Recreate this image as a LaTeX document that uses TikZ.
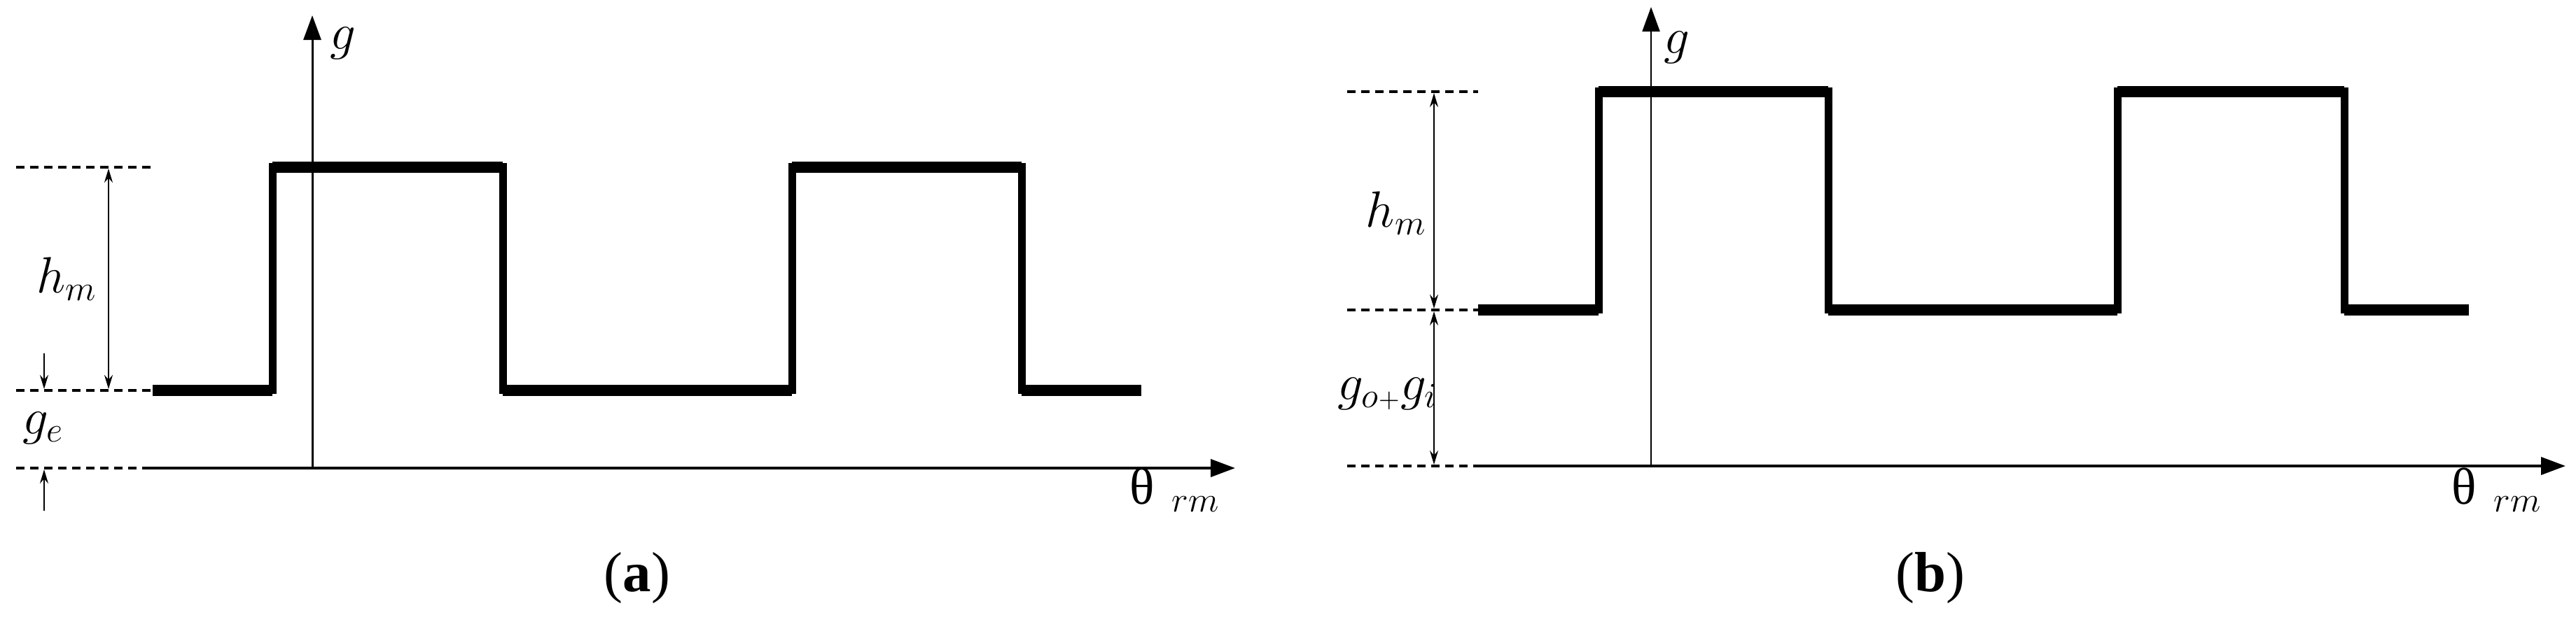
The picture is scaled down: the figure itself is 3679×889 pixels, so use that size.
\documentclass[tikz,border=0pt]{standalone}
\usepackage{fontspec}
\setmainfont{Liberation Serif}
\usetikzlibrary{arrows.meta}
\begin{document}
\begin{tikzpicture}[x=0.01cm,y=-0.01cm,
  wave/.style={line width=0.11cm,line join=miter},
  flat/.style={line width=0.16cm},
  axis/.style={line width=0.04cm,-{Triangle[length=0.35cm,width=0.25cm]}},
  guide/.style={line width=0.04cm,dashed,dash pattern=on 0.12cm off 0.08cm},
  dim/.style={line width=0.02cm,{Stealth[length=0.2cm,width=0.12cm]}-{Stealth[length=0.2cm,width=0.12cm]}},
  lbl/.style={font=\fontsize{21}{24}\selectfont,inner sep=0pt},
  captxt/.style={font=\fontsize{23}{27}\selectfont,inner sep=0pt}]
\useasboundingbox (0,0) rectangle (3679,889);
% ---------- (a)
\coordinate (ao) at (211,669);
\coordinate (ax) at (1764,669);
\coordinate (ab) at (446,669);
\coordinate (at) at (446,22);
\draw[axis] (ao) -- (ax);
\draw[axis,line width=0.03cm] (ab) -- (at);
\draw[wave] (218,558) -- (389,558) -- (389,239) -- (718,239) -- (718,558) -- (1131,558) -- (1131,239) -- (1459,239) -- (1459,558) -- (1630,558);
\draw[flat] (218,558) -- (389,558) (389,239) -- (718,239) (718,558) -- (1131,558) (1131,239) -- (1459,239) (1459,558) -- (1630,558);
\coordinate (a1) at (23,239); \coordinate (a2) at (223,239);
\coordinate (a3) at (23,558); \coordinate (a4) at (218,558);
\coordinate (a5) at (23,669); \coordinate (a6) at (211,669);
\draw[guide] (a1) -- (a2);
\draw[guide] (a3) -- (a4);
\draw[guide] (a5) -- (a6);
\coordinate (ah1) at (155,241); \coordinate (ah2) at (155,556);
\draw[dim] (ah1) -- (ah2);
\coordinate (ad1) at (63,505); \coordinate (ad2) at (63,556);
\draw[line width=0.02cm,-{Stealth[length=0.2cm,width=0.12cm]}] (ad1) -- (ad2);
\coordinate (au1) at (63,730); \coordinate (au2) at (63,671);
\draw[line width=0.02cm,-{Stealth[length=0.2cm,width=0.12cm]}] (au1) -- (au2);
\node[lbl] (ahm) at (96,399) {\(h_m\)};
\node[lbl] (age) at (62,612) {\(g_e\)};
\node[lbl] (ag) at (490,62) {\(g\)};
\node[lbl] (ath) at (1678,700) {θ\,\,\(_{rm}\)};
\node[captxt] (acap) at (910,826) {(\textbf{a})};
% ---------- (b)
\coordinate (bo) at (2111,666);
\coordinate (bx) at (3664,666);
\coordinate (bb) at (2358,666);
\coordinate (bt) at (2358,10);
\draw[axis] (bo) -- (bx);
\draw[axis,line width=0.02cm] (bb) -- (bt);
\draw[wave] (2111,443) -- (2283,443) -- (2283,131) -- (2611,131) -- (2611,443) -- (3024,443) -- (3024,131) -- (3348,131) -- (3348,443) -- (3526,443);
\draw[flat] (2111,443) -- (2283,443) (2283,131) -- (2611,131) (2611,443) -- (3024,443) (3024,131) -- (3348,131) (3348,443) -- (3526,443);
\coordinate (b1) at (1924,131); \coordinate (b2) at (2111,131);
\coordinate (b3) at (1924,443); \coordinate (b4) at (2111,443);
\coordinate (b5) at (1924,666); \coordinate (b6) at (2111,666);
\draw[guide] (b1) -- (b2);
\draw[guide] (b3) -- (b4);
\draw[guide] (b5) -- (b6);
\coordinate (bh1) at (2048,133); \coordinate (bh2) at (2048,441);
\coordinate (bh3) at (2048,445); \coordinate (bh4) at (2048,664);
\draw[dim] (bh1) -- (bh2);
\draw[dim] (bh3) -- (bh4);
\node[lbl] (bhm) at (1994,305) {\(h_m\)};
\node[lbl] (bgg) at (1982,563) {\(g_{o\scriptscriptstyle +}g_i\)};
\node[lbl] (bg) at (2395,68) {\(g\)};
\node[lbl] (bth) at (3566,700) {θ\,\,\(_{rm}\)};
\node[captxt] (bcap) at (2757,826) {(\textbf{b})};
\end{tikzpicture}
\end{document}
